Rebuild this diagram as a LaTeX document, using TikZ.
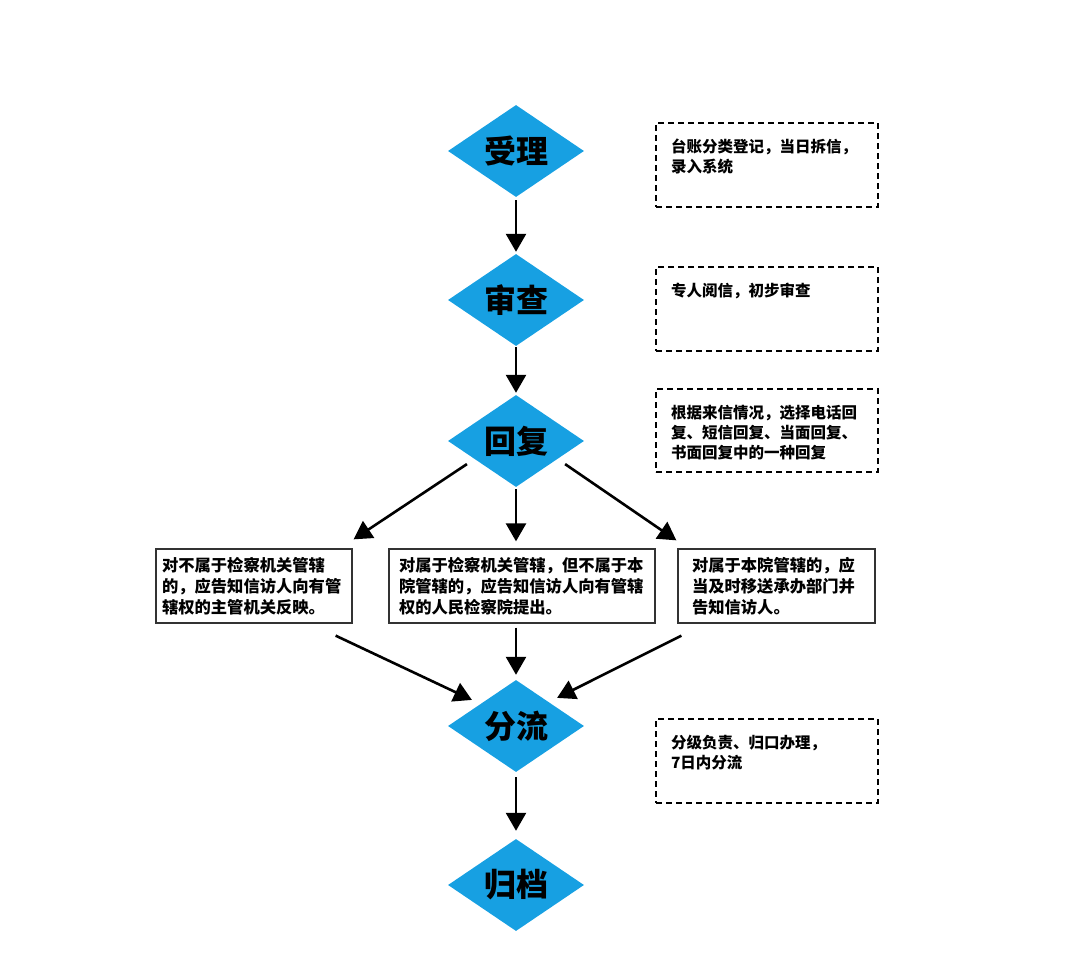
\documentclass[tikz,border=0pt]{standalone}
\usepackage{fontspec}
\setmainfont{Noto Sans CJK SC}
\usepackage{xcolor}
\usepackage{tikz}
\usetikzlibrary{shapes.geometric}
\usetikzlibrary{arrows.meta}
\definecolor{stageblue}{RGB}{23,160,226}

\begin{document}
\begin{tikzpicture}[x=1pt, y=-1pt,
    stage/.style={diamond, fill=stageblue, aspect=1.48, minimum width=136pt,
        minimum height=92pt, inner sep=0pt, font=\bfseries\fontsize{32}{32}\selectfont},
    memo/.style={draw=black, line width=1.8pt, dash pattern=on 6pt off 4pt,
        inner xsep=15pt, inner ysep=16pt, font=\bfseries\fontsize{15.5}{20}\selectfont},
    case/.style={draw=black!80, line width=1.3pt, minimum height=74pt, align=left,
        font=\bfseries\fontsize{16.3}{21}\selectfont},
    flow/.style={line width=2.6pt, -{Triangle[length=18pt,width=20pt]}}]
            \useasboundingbox (0,0) rectangle (1080,979);

            % stages
            \node[stage] (sl) at (516,151) {受理};
            \node[stage] (sc) at (516,300) {审查};
            \node[stage] (hf) at (516,441) {回复};
            \node[stage] (fl) at (516,726) {分流};
            \node[stage] (gd) at (516,885) {归档};

            % notes on the right
            \node[memo] (m1) at (767,165) {\parbox[c][52pt][t]{192pt}{台账分类登记，当日拆信，\\录入系统}};
            \node[memo] (m2) at (767,309) {\parbox[c][52pt][t]{192pt}{专人阅信，初步审查}};
            \node[memo] (m3) at (767,430.5) {\parbox[c][51pt][t]{192pt}{根据来信情况，选择电话回\\复、短信回复、当面回复、\\书面回复中的一种回复}};
            \node[memo] (m4) at (767,761) {\parbox[c][52pt][t]{192pt}{分级负责、归口办理，\\7日内分流}};

            % three cases
            \node[case, minimum width=196pt, text width=184pt] (ca) at (254,586)
                {对不属于检察机关管辖\\的，应告知信访人向有管\\辖权的主管机关反映。};
            \node[case, minimum width=266pt, text width=246pt] (cb) at (522,586)
                {对属于检察机关管辖，但不属于本\\院管辖的，应告知信访人向有管辖\\权的人民检察院提出。};
            \node[case, minimum width=197pt, text width=169pt] (cc) at (776.5,586)
                {对属于本院管辖的，应\\当及时移送承办部门并\\告知信访人。};

            \draw[flow, shorten <=3pt, shorten >=2pt] (sl) -- (sc);
            \draw[flow, shorten <=1pt, shorten >=2pt] (sc) -- (hf);
            \draw[flow, shorten <=2pt, shorten >=7pt] (hf.south) -- (hf.south |- cb.north);
            \draw[flow] ([xshift=-15pt]hf.south west) -- ([shift={(1,-9)}]ca.north east);
            \draw[flow] ([xshift=15pt]hf.south east) -- ([shift={(-1,-8)}]cc.north west);
            %\draw (cb) -- (fl);
            \draw[flow, shorten <=4pt, shorten >=5pt] (fl.north |- cb.south) -- (fl.north);
            \draw[flow] ([shift={(-17,12)}]ca.south east) -- ([shift={(-10,-3)}]fl.north west);
            \draw[flow] ([shift={(4,12)}]cc.south west) -- ([shift={(7,-5)}]fl.north east);
            \draw[flow, shorten <=5pt, shorten >=8pt] (fl) -- (gd);
\end{tikzpicture}
\end{document}
